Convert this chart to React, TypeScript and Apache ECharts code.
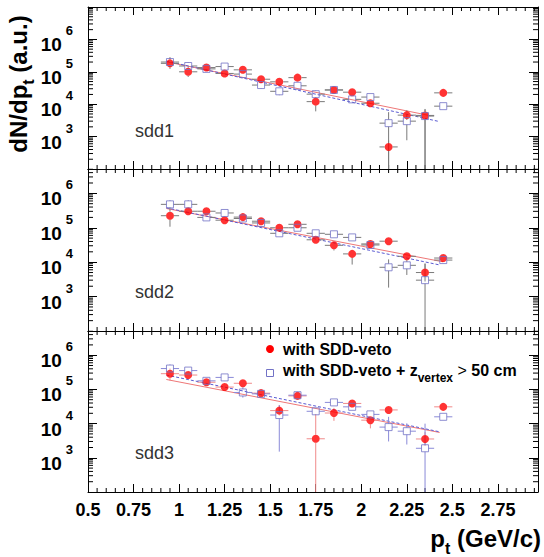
import { useEffect, useRef } from 'react';
import * as echarts from 'echarts';

// ---------- data ----------
const ptCenters = [0.95, 1.05, 1.15, 1.25, 1.35, 1.45, 1.55, 1.65, 1.75, 1.85, 1.95, 2.05, 2.15, 2.25, 2.35, 2.45];
const ptHalfWidth = 0.05;
const panelNames = ['sdd1', 'sdd2', 'sdd3'];
const seriesNames = ['with SDD-veto', 'with SDD-veto + z_vertex > 50 cm'];

// sdd1
const sdd1Veto = [182000, 100000, 135000, 89000, 115000, 59000, 49000, 66000, 12000, 27500, 23500, 10700, 480, 4600, 4500, 22400];
const sdd1VetoErrUp = [0.17, 0.16, 0.1, 0.1, 0.1, 0.1, 0.1, 0.1, 0.12, 0.08, 0.1, 0.1, 0.2, 0.15, 0.2, 0.08];
const sdd1VetoErrDn = [0.17, 0.16, 0.1, 0.1, 0.1, 0.1, 0.1, 0.12, 0.3, 0.08, 0.1, 0.12, 9, 0.15, 9, 0.08];
const sdd1Zvtx = [200000, 151000, 123000, 145000, 85000, 39000, 25000, 37000, 20400, 27500, 14100, 16600, 2600, 3000, 4300, 8700];
const sdd1ZvtxErrUp = [0.15, 0.12, 0.1, 0.1, 0.1, 0.1, 0.1, 0.1, 0.12, 0.08, 0.1, 0.1, 0.34, 0.19, 0.2, 0.08];
const sdd1ZvtxErrDn = [0.15, 0.12, 0.1, 0.1, 0.1, 0.12, 0.12, 0.1, 0.12, 0.08, 0.1, 0.1, 9, 0.59, 9, 0.08];
const sdd1FitVeto = [[0.93, 204000], [2.38, 4400]];
const sdd1FitZvtx = [[0.93, 214000], [2.43, 2900]];

// sdd2
const sdd2Veto = [224000, 302000, 302000, 166000, 204000, 155000, 100000, 126000, 44700, 30900, 17400, 33900, 40700, 14800, 5000, 13200];
const sdd2VetoErrUp = [0.24, 0.1, 0.1, 0.1, 0.1, 0.1, 0.1, 0.1, 0.1, 0.1, 0.1, 0.1, 0.08, 0.1, 0.26, 0.08];
const sdd2VetoErrDn = [0.32, 0.1, 0.1, 0.1, 0.1, 0.1, 0.1, 0.1, 0.1, 0.15, 0.31, 0.1, 0.08, 0.1, 0.26, 0.08];
const sdd2Zvtx = [479000, 479000, 200000, 269000, 186000, 138000, 69000, 100000, 69000, 64600, 52500, 31600, 7100, 8100, 3000, 11500];
const sdd2ZvtxErrUp = [0.12, 0.12, 0.1, 0.1, 0.1, 0.1, 0.1, 0.1, 0.1, 0.1, 0.1, 0.1, 0.23, 0.15, 0.48, 0.08];
const sdd2ZvtxErrDn = [0.12, 0.12, 0.1, 0.1, 0.1, 0.1, 0.1, 0.1, 0.1, 0.1, 0.1, 0.1, 0.59, 0.28, 9, 0.08];
const sdd2FitVeto = [[0.93, 363000], [2.45, 10200]];
const sdd2FitZvtx = [[0.93, 380000], [2.43, 8300]];

// sdd3
const sdd3Veto = [288000, 263000, 162000, 117000, 151000, 77600, 24000, 64600, 3600, 20400, 38900, 12600, 25100, null, 3550, 30900];
const sdd3VetoErrUp = [0.15, 0.12, 0.1, 0.1, 0.1, 0.1, 0.16, 0.1, 0.72, 0.15, 0.1, 0.1, 0.08, 0, 0.2, 0.08];
const sdd3VetoErrDn = [0.2, 0.12, 0.1, 0.1, 0.1, 0.1, 0.14, 0.1, 9, 0.23, 0.1, 0.24, 0.08, 0, 0.2, 0.08];
const sdd3Zvtx = [407000, 355000, 178000, 224000, 81300, 74100, 17800, 67600, 22900, 41700, 30900, 18600, 7900, 6000, 1900, 15800];
const sdd3ZvtxErrUp = [0.12, 0.1, 0.1, 0.1, 0.15, 0.1, 0.29, 0.1, 0.1, 0.1, 0.1, 0.1, 0.3, 0.23, 0.72, 0.08];
const sdd3ZvtxErrDn = [0.12, 0.1, 0.1, 0.1, 0.15, 0.1, 1.07, 0.1, 0.1, 0.1, 0.1, 0.1, 0.42, 0.39, 9, 0.08];
const sdd3FitVeto = [[0.93, 195000], [2.43, 5500]];
const sdd3FitZvtx = [[0.93, 263000], [2.43, 5750]];

const yMin = 100;
const panelYMax = [1e7, 5.1e6, 5.1e6];
const xMin = 0.5;
const xMax = 2.97;

// ---------- styling ----------
const FONT = '"Liberation Sans", Arial, Helvetica, sans-serif';
const RED = '#ff0000';
const BLUE = '#7272c6';
const panelLayout = [
  { top: 7, height: 162 },
  { top: 169, height: 162 },
  { top: 331, height: 161 },
];
const gridLeft = 88;
const gridWidth = 450;
const errColors = [
  ['#7a7a7a', '#7a7a7a'],
  ['#7a7a7a', '#7a7a7a'],
  ['#f08a8a', '#8a8ad8'],
];

const panels = [
  { veto: sdd1Veto, vUp: sdd1VetoErrUp, vDn: sdd1VetoErrDn, z: sdd1Zvtx, zUp: sdd1ZvtxErrUp, zDn: sdd1ZvtxErrDn, fitV: sdd1FitVeto, fitZ: sdd1FitZvtx },
  { veto: sdd2Veto, vUp: sdd2VetoErrUp, vDn: sdd2VetoErrDn, z: sdd2Zvtx, zUp: sdd2ZvtxErrUp, zDn: sdd2ZvtxErrDn, fitV: sdd2FitVeto, fitZ: sdd2FitZvtx },
  { veto: sdd3Veto, vUp: sdd3VetoErrUp, vDn: sdd3VetoErrDn, z: sdd3Zvtx, zUp: sdd3ZvtxErrUp, zDn: sdd3ZvtxErrDn, fitV: sdd3FitVeto, fitZ: sdd3FitZvtx },
];

function errData(vals: (number | null)[], up: number[], dn: number[]) {
  const out: number[][] = [];
  vals.forEach((v, i) => {
    if (v != null) out.push([ptCenters[i], v, dn[i], up[i]]);
  });
  return out;
}

function errRenderer(color: string, gap: number) {
  return (_params: any, api: any) => {
    const x = api.value(0);
    const y = api.value(1);
    const dn = api.value(2);
    const up = api.value(3);
    const lo = Math.max(y / Math.pow(10, dn), yMin);
    const hi = y * Math.pow(10, up);
    const c = api.coord([x, y]);
    const l = api.coord([x - ptHalfWidth, y]);
    const r = api.coord([x + ptHalfWidth, y]);
    const t = api.coord([x, hi]);
    const b = api.coord([x, lo]);
    const style = { stroke: color, lineWidth: 1 };
    const ch: any[] = [];
    if (c[0] - gap > l[0]) ch.push({ type: 'line', shape: { x1: l[0], y1: c[1], x2: c[0] - gap, y2: c[1] }, style });
    if (r[0] > c[0] + gap) ch.push({ type: 'line', shape: { x1: c[0] + gap, y1: c[1], x2: r[0], y2: c[1] }, style });
    if (c[1] - gap > t[1]) ch.push({ type: 'line', shape: { x1: c[0], y1: t[1], x2: c[0], y2: c[1] - gap }, style });
    if (b[1] > c[1] + gap) ch.push({ type: 'line', shape: { x1: c[0], y1: c[1] + gap, x2: c[0], y2: b[1] }, style });
    return { type: 'group', children: ch };
  };
}

// minor axis ticks (ROOT style log minors and 0.05 x minors)
function minorTickData(yMax: number) {
  const d: number[][] = [];
  for (let e = 2; e <= 7; e++) {
    for (let k = 2; k <= 9; k++) {
      const v = k * Math.pow(10, e);
      if (v < yMax) d.push([xMin, v, 0]);
    }
  }
  for (let i = 11; i * 0.05 < xMax - 1e-6; i++) {
    if (i % 5 !== 0) d.push([Math.round(i * 5) / 100, yMin, 1]);
  }
  return d;
}

function tickRenderer(yMax: number) {
  return (_params: any, api: any) => {
    const kind = api.value(2);
    const style = { stroke: '#000', lineWidth: 1 };
    if (kind === 0) {
      const v = api.value(1);
      const p = api.coord([xMin, v]);
      const q = api.coord([xMax, v]);
      return {
        type: 'group',
        children: [
          { type: 'line', shape: { x1: p[0], y1: p[1], x2: p[0] + 5, y2: p[1] }, style },
          { type: 'line', shape: { x1: q[0] - 5, y1: q[1], x2: q[0], y2: q[1] }, style },
        ],
      };
    }
    const v = api.value(0);
    const p = api.coord([v, yMin]);
    const q = api.coord([v, yMax]);
    return {
      type: 'group',
      children: [
        { type: 'line', shape: { x1: p[0], y1: p[1], x2: p[0], y2: p[1] - 4 }, style },
        { type: 'line', shape: { x1: q[0], y1: q[1], x2: q[0], y2: q[1] + 4 }, style },
      ],
    };
  };
}

function yLabel(v: number) {
  const e = Math.log10(v);
  const r = Math.round(e);
  if (Math.abs(e - r) > 1e-6 || r < 3 || r > 6) return '';
  return `{b|10}{s|${r}}`;
}

function buildOption() {
  const grid: any[] = [];
  const xAxis: any[] = [];
  const yAxis: any[] = [];
  const series: any[] = [];
  const lineCol = { lineStyle: { color: '#000', width: 1 } };

  panels.forEach((p, i) => {
    const yMax = panelYMax[i];
    grid.push({ left: gridLeft, top: panelLayout[i].top, width: gridWidth, height: panelLayout[i].height, outerBoundsMode: 'none' });
    const isLast = i === panels.length - 1;
    xAxis.push({
      type: 'value', gridIndex: i, position: 'bottom', min: xMin, max: xMax, interval: 0.25,
      axisLine: { show: true, onZero: false, ...lineCol },
      axisTick: { show: true, inside: true, length: 8, ...lineCol },
      splitLine: { show: false },
      axisLabel: {
        show: isLast, showMaxLabel: false, margin: 9, color: '#000',
        fontFamily: FONT, fontSize: 18, fontWeight: 'bold',
      },
    });
    xAxis.push({
      type: 'value', gridIndex: i, position: 'top', min: xMin, max: xMax, interval: 0.25,
      axisLine: { show: true, onZero: false, ...lineCol },
      axisTick: { show: true, inside: true, length: 8, ...lineCol },
      splitLine: { show: false },
      axisLabel: { show: false },
    });
    yAxis.push({
      type: 'log', logBase: 10, gridIndex: i, position: 'left', min: yMin, max: yMax,
      axisLine: { show: true, onZero: false, ...lineCol },
      axisTick: { show: true, inside: true, length: 9, ...lineCol },
      splitLine: { show: false },
      axisLabel: {
        show: true, margin: 15, color: '#000', formatter: yLabel,
        rich: {
          b: { fontFamily: FONT, fontSize: 19, fontWeight: 'bold', color: '#000', lineHeight: 30, verticalAlign: 'bottom' },
          s: { fontFamily: FONT, fontSize: 13, fontWeight: 'bold', color: '#000', lineHeight: 20, verticalAlign: 'top', padding: [0, 0, 0, 4] },
        },
      },
    });
    yAxis.push({
      type: 'log', logBase: 10, gridIndex: i, position: 'right', min: yMin, max: yMax,
      axisLine: { show: true, onZero: false, ...lineCol },
      axisTick: { show: true, inside: true, length: 9, ...lineCol },
      splitLine: { show: false },
      axisLabel: { show: false },
    });

    const xi = i * 2;
    const yi = i * 2;
    series.push({
      type: 'custom', name: 'ticks' + i, xAxisIndex: xi, yAxisIndex: yi, silent: true,
      renderItem: tickRenderer(yMax), data: minorTickData(yMax), encode: { x: 0, y: 1 }, z: 1,
    });
    series.push({
      type: 'line', name: seriesNames[0] + ' fit', xAxisIndex: xi, yAxisIndex: yi, silent: true,
      data: p.fitV, symbol: 'none', lineStyle: { color: '#ee7777', width: 1 }, z: 2,
    });
    series.push({
      type: 'line', name: seriesNames[1] + ' fit', xAxisIndex: xi, yAxisIndex: yi, silent: true,
      data: p.fitZ, symbol: 'none', lineStyle: { color: '#5a5ad2', width: 1, type: [3, 2] }, z: 2,
    });
    series.push({
      type: 'custom', name: seriesNames[0] + ' err', xAxisIndex: xi, yAxisIndex: yi, silent: true,
      renderItem: errRenderer(errColors[i][0], 4), data: errData(p.veto, p.vUp, p.vDn), encode: { x: 0, y: 1 }, z: 3,
    });
    series.push({
      type: 'custom', name: seriesNames[1] + ' err', xAxisIndex: xi, yAxisIndex: yi, silent: true,
      renderItem: errRenderer(errColors[i][1], 3.5), data: errData(p.z, p.zUp, p.zDn), encode: { x: 0, y: 1 }, z: 3,
    });
    series.push({
      type: 'scatter', name: seriesNames[0], xAxisIndex: xi, yAxisIndex: yi, silent: true,
      data: p.veto.map((v, k) => (v == null ? [ptCenters[k], '-'] : [ptCenters[k], v])),
      symbol: 'circle', symbolSize: 8, itemStyle: { color: RED }, z: 4,
    });
    series.push({
      type: 'scatter', name: seriesNames[1], xAxisIndex: xi, yAxisIndex: yi, silent: true,
      data: p.z.map((v, k) => [ptCenters[k], v]),
      symbol: 'rect', symbolSize: 7,
      itemStyle: { color: 'rgba(0,0,0,0)', borderColor: BLUE, borderWidth: 1 }, z: 5,
    });
  });

  const titleRich = {
    b: { fontFamily: FONT, fontSize: 24, fontWeight: 'bold', fill: '#000', color: '#000', lineHeight: 30, verticalAlign: 'top' },
    s: { fontFamily: FONT, fontSize: 16, fontWeight: 'bold', fill: '#000', color: '#000', lineHeight: 15, verticalAlign: 'bottom' },
  };
  const legRich = {
    b: { fontFamily: FONT, fontSize: 16, fontWeight: 'bold', fill: '#000', color: '#000', lineHeight: 22, verticalAlign: 'top' },
    s: { fontFamily: FONT, fontSize: 12, fontWeight: 'bold', fill: '#000', color: '#000', lineHeight: 13, verticalAlign: 'bottom' },
    n: { fontFamily: FONT, fontSize: 16, fontWeight: 'normal', fill: '#000', color: '#000', lineHeight: 22, verticalAlign: 'top' },
  };
  const panelTextY = [131, 292, 453];

  const graphic: any[] = [
    {
      type: 'text', x: 21, y: 84, rotation: Math.PI / 2, silent: true,
      style: { text: '{b|dN/dp}{s|t}{b| (a.u.)}', rich: titleRich, align: 'center', verticalAlign: 'middle' },
    },
    {
      type: 'text', x: 541, y: 541, silent: true,
      style: { text: '{b|p}{s|t}{b| (GeV/c)}', rich: titleRich, align: 'right', verticalAlign: 'middle' },
    },
    ...panelNames.map((n, i) => ({
      type: 'text', x: 135, y: panelTextY[i], silent: true,
      style: { text: n, fill: '#333', font: `18px ${FONT}`, align: 'left', verticalAlign: 'middle' },
    })),
    { type: 'circle', shape: { cx: 270, cy: 349, r: 4 }, style: { fill: RED }, silent: true },
    {
      type: 'text', x: 283, y: 349, silent: true,
      style: { text: seriesNames[0], fill: '#000', font: `bold 16px ${FONT}`, align: 'left', verticalAlign: 'middle' },
    },
    { type: 'rect', shape: { x: 266.5, y: 369.5, width: 7, height: 7 }, style: { fill: 'none', stroke: BLUE, lineWidth: 1 }, silent: true },
    {
      type: 'text', x: 283, y: 373, silent: true,
      style: { text: '{b|with SDD-veto + z}{s|vertex}{n| > }{b|50 cm}', rich: legRich, align: 'left', verticalAlign: 'middle' },
    },
  ];

  return { animation: false, grid, xAxis, yAxis, series, graphic };
}

export default function App() {
  const ref = useRef<HTMLDivElement>(null);
  useEffect(() => {
    if (!ref.current) return;
    const chart = echarts.init(ref.current, undefined, { renderer: 'svg' });
    chart.setOption(buildOption() as any);
    return () => chart.dispose();
  }, []);
  return (
    <div
      ref={ref}
      style={{ position: 'absolute', left: 0, top: 0, width: 544, height: 557, background: '#fff' }}
    />
  );
}
